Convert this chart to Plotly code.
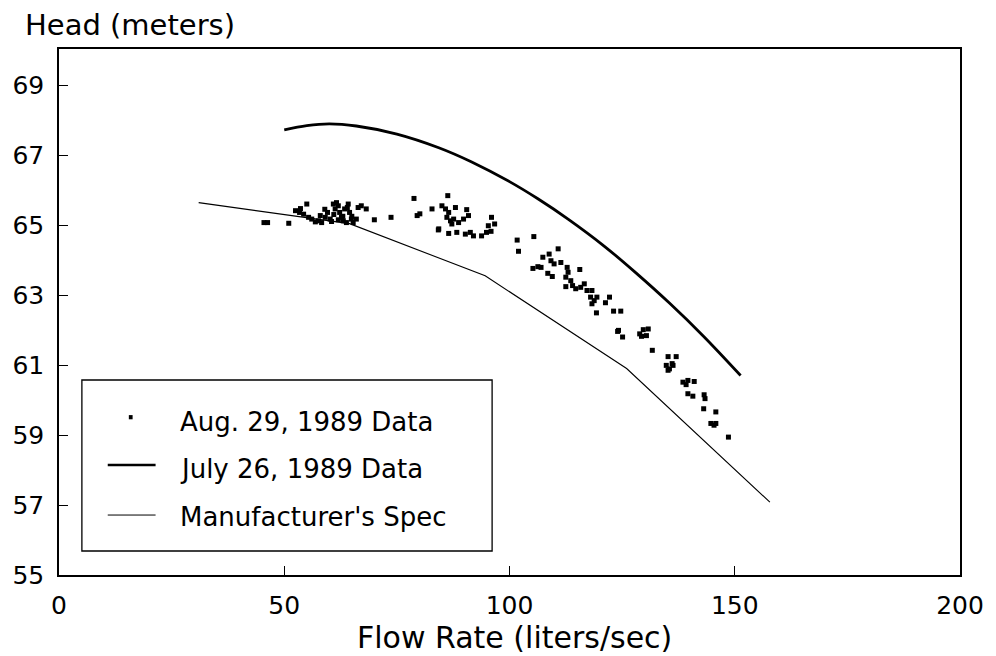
import plotly.graph_objects as go

# ---------------- data ----------------
# Aug. 29, 1989 measured points (flow L/s, head m)
aug_flow = [45.5, 46.3, 51.0, 52.5, 53.6, 53.4, 54.3, 55.0, 55.4, 56.1, 56.9, 57.6, 58.0, 58.3,
            59.1, 59.6, 60.2, 60.9, 61.3, 61.6, 62.0, 62.3, 62.7, 63.1, 63.4, 63.8, 64.2, 64.5,
            64.9, 65.3, 66.0, 66.4, 67.1, 68.2, 70.0, 73.7, 78.8, 82.8, 79.5, 80.1, 84.3,
            59.0, 61.0, 63.0, 64.0, 62.0, 60.5, 65.0,
            86.3, 85.0, 85.8, 86.5, 88.0, 90.5, 86.1, 86.9, 87.6, 87.2, 88.7, 89.8, 90.9, 84.2,
            86.5, 88.3, 90.2, 91.3, 92.0, 93.8, 94.9, 96.0, 95.3, 96.7, 95.9,
            101.7, 102.0, 105.4, 107.4, 108.8, 110.8, 105.2, 106.3, 107.0, 109.2, 109.9, 111.4,
            108.5, 109.5, 112.8, 113.0, 115.6, 112.5, 113.6, 114.0, 112.5, 114.7, 115.8, 116.6,
            117.2, 118.3, 118.0, 118.8, 119.4, 118.3, 119.3, 121.3, 122.2, 123.1, 124.7, 124.0,
            124.2, 125.1, 128.9, 129.7, 130.8, 130.4, 129.3, 131.7, 135.2, 137.0, 134.8, 135.5,
            136.3, 135.2, 136.1, 138.5, 139.6, 141.0, 139.2, 139.6, 140.7, 143.2, 143.4, 143.1,
            145.8, 144.7, 145.8, 145.4, 148.6]
aug_head = [65.07, 65.07, 65.05, 65.41, 65.47, 65.36, 65.31, 65.60, 65.22, 65.17, 65.09, 65.12, 65.27, 65.07,
            65.22, 65.36, 65.17, 65.60, 65.46, 65.64, 65.55, 65.36, 65.22, 65.12, 65.46, 65.07, 65.60, 65.36,
            65.17, 65.07, 65.17, 65.50, 65.55, 65.46, 65.15, 65.22, 65.76, 65.46, 65.27, 65.32, 64.89,
            65.45, 65.30, 65.25, 65.50, 65.15, 65.10, 65.25,
            65.84, 65.55, 65.46, 65.36, 65.50, 65.44, 65.22, 65.12, 65.17, 65.03, 65.07, 65.17, 65.27, 64.86,
            64.76, 64.79, 64.74, 64.79, 64.69, 64.69, 64.79, 65.22, 64.98, 65.03, 64.82,
            64.57, 64.25, 64.67, 64.08, 64.17, 64.32, 63.76, 63.81, 63.79, 63.98, 63.89, 63.93,
            63.62, 63.53, 63.79, 63.65, 63.73, 63.51, 63.41, 63.27, 63.24, 63.18, 63.22, 63.32,
            63.13, 63.13, 62.94, 62.84, 62.94, 62.75, 62.49, 62.78, 62.94, 62.54, 62.54, 61.96,
            61.99, 61.80, 61.89, 62.01, 62.03, 61.84, 61.82, 61.42, 61.24, 61.24, 60.99, 60.89,
            60.99, 60.85, 61.04, 60.51, 60.56, 60.53, 60.44, 60.18, 60.11, 60.15, 60.04, 59.75,
            59.66, 59.33, 59.33, 59.28, 58.94]

# July 26, 1989 fitted curve
july_flow = [50, 55, 60, 66, 75, 84.3, 91.5, 100, 106.3, 113, 121, 128, 135.5, 143, 151.3]
july_head = [67.72, 67.84, 67.89, 67.83, 67.60, 67.21, 66.81, 66.24, 65.75, 65.17, 64.40, 63.64, 62.77, 61.83, 60.70]

# Manufacturer's specification
spec_flow = [31.0, 64.5, 94.6, 126.0, 157.8]
spec_head = [65.64, 65.04, 63.55, 60.9, 57.08]

x_ticks = [0, 50, 100, 150, 200]
y_ticks = [55, 57, 59, 61, 63, 65, 67, 69]

legend_labels = ["Aug. 29, 1989 Data", "July 26, 1989 Data", "Manufacturer's Spec"]

FONT = "DejaVu Sans"

fig = go.Figure()
fig.add_trace(go.Scatter(x=spec_flow, y=spec_head, mode="lines",
                         line=dict(color="black", width=1.1), showlegend=False))
fig.add_trace(go.Scatter(x=july_flow, y=july_head, mode="lines",
                         line=dict(color="black", width=2.8, shape="spline", smoothing=1.0),
                         showlegend=False))
fig.add_trace(go.Scatter(x=aug_flow, y=aug_head, mode="markers",
                         marker=dict(symbol="square", size=5, color="black", line=dict(width=0)),
                         showlegend=False))

axis_common = dict(showgrid=False, zeroline=False, showline=True, mirror=True,
                   linecolor="black", linewidth=1.5, ticks="inside", tickcolor="black",
                   ticklen=9, tickwidth=1.2,
                   tickfont=dict(family=FONT, size=25, color="black"))

fig.update_layout(
    width=996, height=656,
    margin=dict(l=56, r=35, t=49, b=81),
    paper_bgcolor="white", plot_bgcolor="white",
    xaxis=dict(range=[0, 200], tickvals=x_ticks, ticktext=[str(v) for v in x_ticks],
               ticklabelstandoff=7, **axis_common),
    yaxis=dict(range=[55, 70.03], tickvals=y_ticks, ticktext=[str(v) for v in y_ticks],
               ticklabelstandoff=8, **axis_common),
    showlegend=False,
)

# axis titles
fig.add_annotation(text="Head (meters)", xref="paper", yref="paper", x=-0.040, y=1.046,
                   xanchor="left", yanchor="middle", showarrow=False,
                   font=dict(family=FONT, size=29, color="black"))
fig.add_annotation(text="Flow Rate (liters/sec)", xref="paper", yref="paper", x=0.505, y=-0.118,
                   xanchor="center", yanchor="middle", showarrow=False,
                   font=dict(family=FONT, size=30, color="black"))

# manual legend
fig.add_shape(type="rect", xref="paper", yref="paper", x0=0.0254, x1=0.4807, y0=0.0456, y1=0.3707,
              line=dict(color="black", width=1.3), fillcolor="white", layer="above")
fig.add_shape(type="rect", xref="paper", yref="paper", x0=0.0775, x1=0.0817, y0=0.296, y1=0.304,
              line=dict(width=0), fillcolor="black", layer="above")
fig.add_shape(type="line", xref="paper", yref="paper", x0=0.0541, x1=0.1072, y0=0.209, y1=0.209,
              line=dict(color="black", width=2.5), layer="above")
fig.add_shape(type="line", xref="paper", yref="paper", x0=0.0541, x1=0.1072, y0=0.114, y1=0.114,
              line=dict(color="black", width=1.0), layer="above")
for label, ypos in zip(legend_labels, [0.2915, 0.201, 0.1097]):
    fig.add_annotation(text=label, xref="paper", yref="paper", x=0.1326, y=ypos,
                       xanchor="left", yanchor="middle", showarrow=False,
                       font=dict(family=FONT, size=26, color="black"))

fig.write_html("out.html", config={"displayModeBar": False},
               post_script="document.body.style.margin='0px';document.body.style.padding='0px';")
